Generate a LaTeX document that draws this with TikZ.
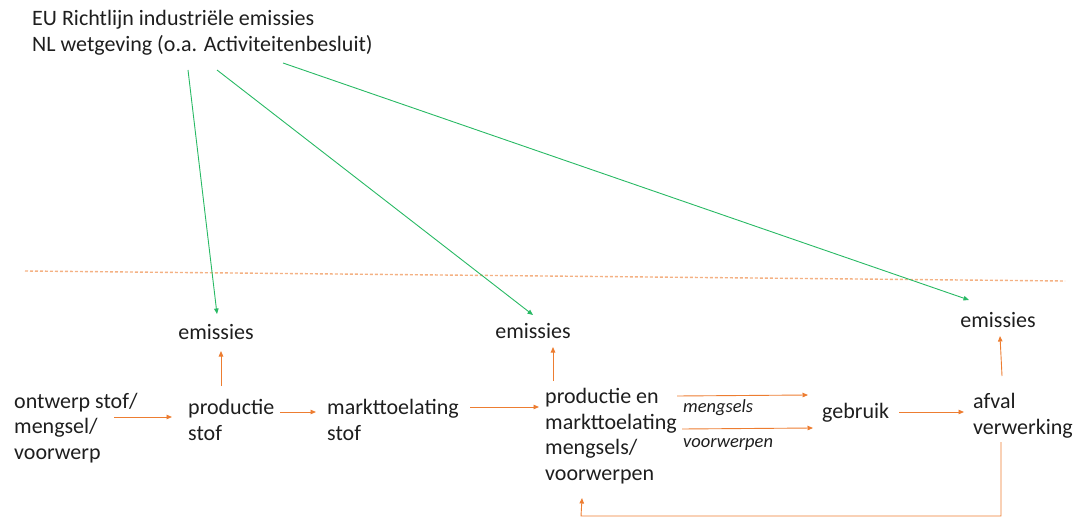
\documentclass[tikz,border=0pt]{standalone}
\usepackage{fontspec}
\setmainfont{Carlito}
\usetikzlibrary{arrows.meta}
\definecolor{txt}{RGB}{30,30,30}
\definecolor{org}{RGB}{237,125,49}
\definecolor{lorg}{RGB}{244,177,131}
\definecolor{grn}{RGB}{40,185,100}
\tikzset{
  lbl/.style={anchor=west,inner sep=0pt,align=left,text=txt,font=\fontsize{22}{25.5}\selectfont},
  sml/.style={anchor=west,inner sep=0pt,text=txt,font=\fontsize{18.5}{20}\selectfont\itshape},
  oarrow/.style={draw=org,line width=0.9pt,-{Triangle[length=5.5pt,width=4.5pt]}},
  garrow/.style={draw=grn,line width=0.9pt,-{Triangle[length=5.5pt,width=4.5pt]}},
  sepline/.style={draw=lorg,line width=1.4pt,dash pattern=on 3pt off 2pt}
}
\begin{document}
\begin{tikzpicture}[x=1pt,y=-1pt]
\useasboundingbox (0,0) rectangle (1078,518);
% texts
\node[lbl] (title) at (32,33) {EU Richtlijn industriële emissies\\NL wetgeving (o.a. Activiteitenbesluit)};
\node[lbl] (ontwerp) at (14,428) {ontwerp stof/\\mengsel/\\voorwerp};
\node[lbl] (prodstof) at (188,420) {productie\\stof};
\node[lbl] (markt) at (327,420) {markttoelating\\stof};
\node[lbl] (prodmeng) at (545,436) {productie en\\markttoelating\\mengsels/\\voorwerpen};
\node[lbl] (gebruik) at (822,413) {gebruik};
\node[lbl] (afval) at (973,416) {afval\\verwerking};
\node[lbl,anchor=center] (em1) at (216,332) {emissies};
\node[lbl,anchor=center] (em2) at (533,331) {emissies};
\node[lbl,anchor=center] (em3) at (998,320) {emissies};
\node[sml] (lmeng) at (683,408) {mengsels};
\node[sml] (lvoor) at (683,445) {voorwerpen};
% separator
\coordinate (s1) at (25,271);
\coordinate (s2) at (1065,281);
\draw[sepline] (s1) -- (s2);
% green arrows
\coordinate (g1s) at (188,70);
\coordinate (g1e) at (217,314);
\coordinate (g2s) at (217,70);
\coordinate (g2e) at (533,315);
\coordinate (g3s) at (283,63);
\coordinate (g3e) at (969,300);
\draw[garrow] (g1s) -- (g1e);
\draw[garrow] (g2s) -- (g2e);
\draw[garrow] (g3s) -- (g3e);
% orange arrows up to emissies
\coordinate (u1) at (221,386);
\coordinate (u1e) at (221,351);
\coordinate (u2) at (553,381);
\coordinate (u2e) at (553,347);
\coordinate (u3) at (1002,376);
\coordinate (u3e) at (1000,336);
\draw[oarrow] (u1) -- (u1e);
\draw[oarrow] (u2) -- (u2e);
\draw[oarrow] (u3) -- (u3e);
% horizontal flow
\coordinate (h1s) at (114,417); \coordinate (h1e) at (172,417);
\coordinate (h2s) at (280,412); \coordinate (h2e) at (316,412);
\coordinate (h3s) at (470,407); \coordinate (h3e) at (539,407);
\coordinate (h4s) at (677,396); \coordinate (h4e) at (808,395);
\coordinate (h5s) at (682,429); \coordinate (h5e) at (813,428);
\coordinate (h6s) at (899,412); \coordinate (h6e) at (964,412);
\draw[oarrow] (h1s) -- (h1e);
\draw[oarrow] (h2s) -- (h2e);
\draw[oarrow] (h3s) -- (h3e);
\draw[oarrow] (h4s) -- (h4e);
\draw[oarrow] (h5s) -- (h5e);
\draw[oarrow] (h6s) -- (h6e);
% return loop
\coordinate (r1) at (1001,442);
\coordinate (r2) at (1001,516);
\coordinate (r3) at (581,516);
\coordinate (r4) at (582,498);
\draw[oarrow] (r1) -- (r2) -- (r3) -- (r4);
\end{tikzpicture}
\end{document}
